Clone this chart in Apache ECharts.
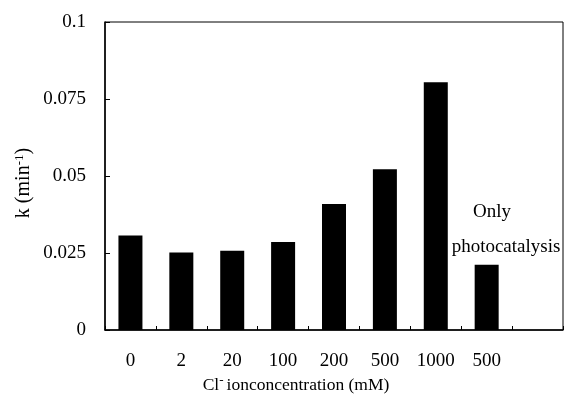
<!DOCTYPE html>
<html>
<head>
<meta charset="utf-8">
<script src="https://cdn.jsdelivr.net/npm/echarts@6/dist/echarts.min.js"></script>
<style>
  html, body { margin: 0; padding: 0; background: #fff; }
  #chart { width: 564px; height: 398px; }
</style>
</head>
<body>
<div id="chart"></div>
<script>
// Chloride concentration categories (mM); the last slot is left empty
const categories = ['0', '2', '20', '100', '200', '500', '1000', '500', ''];
// Rate constant k (min^-1) for each condition
const rateValues = [0.0307, 0.0252, 0.0257, 0.0286, 0.0409, 0.0522, 0.0804, 0.0212, null];
// Y tick labels
const yTickLabels = { 0: '0', 0.025: '0.025', 0.05: '0.05', 0.075: '0.075', 0.1: '0.1' };

const FONT = '"Liberation Serif", "Times New Roman", serif';

const chart = echarts.init(document.getElementById('chart'), null, { renderer: 'canvas' });

chart.setOption({
  animation: false,
  backgroundColor: '#ffffff',
  grid: {
    left: 105, right: 1, top: 22, bottom: 68,
    show: true, borderColor: '#000', borderWidth: 1
  },
  xAxis: {
    type: 'category',
    data: categories,
    axisLine: { lineStyle: { color: '#000', width: 1.5 } },
    axisTick: { show: true, inside: true, length: 4, alignWithLabel: false, lineStyle: { color: '#000', width: 1 } },
    axisLabel: { color: '#000', fontFamily: FONT, fontSize: 19, margin: 22 },
    splitLine: { show: false }
  },
  yAxis: {
    type: 'value',
    min: 0, max: 0.1, interval: 0.025,
    axisLine: { show: true, lineStyle: { color: '#000', width: 1.5 } },
    axisTick: { show: true, inside: true, length: 5, lineStyle: { color: '#000', width: 1 } },
    axisLabel: {
      color: '#000', fontFamily: FONT, fontSize: 19, margin: 19,
      formatter: v => yTickLabels[Math.round(v * 1000) / 1000] ?? ''
    },
    splitLine: { show: false }
  },
  series: [{
    type: 'bar',
    data: rateValues,
    barWidth: 24,
    itemStyle: { color: '#000' }
  }],
  graphic: [
    {
      type: 'text',
      x: 296, y: 385,
      style: {
        text: '{n|Cl}{s|-}{n|ionconcentration (mM)}',
        align: 'center', verticalAlign: 'middle',
        rich: {
          n: { fontFamily: FONT, fontSize: 17.5, fill: '#000' },
          s: { fontFamily: FONT, fontSize: 13, fill: '#000', padding: [0, 3, 8, 0] }
        }
      }
    },
    {
      type: 'text',
      x: 24, y: 183,
      rotation: Math.PI / 2,
      style: {
        text: '{n|k (min}{s|-1}{n|)}',
        align: 'center', verticalAlign: 'middle',
        rich: {
          n: { fontFamily: FONT, fontSize: 20, fill: '#000' },
          s: { fontFamily: FONT, fontSize: 13, fill: '#000', padding: [0, 0, 9, 0] }
        }
      }
    },
    {
      type: 'text',
      x: 492, y: 212,
      style: { text: 'Only', fontFamily: FONT, fontSize: 19, fill: '#000', align: 'center', verticalAlign: 'middle' }
    },
    {
      type: 'text',
      x: 506, y: 247,
      style: { text: 'photocatalysis', fontFamily: FONT, fontSize: 19, fill: '#000', align: 'center', verticalAlign: 'middle' }
    }
  ]
});
</script>
</body>
</html>
